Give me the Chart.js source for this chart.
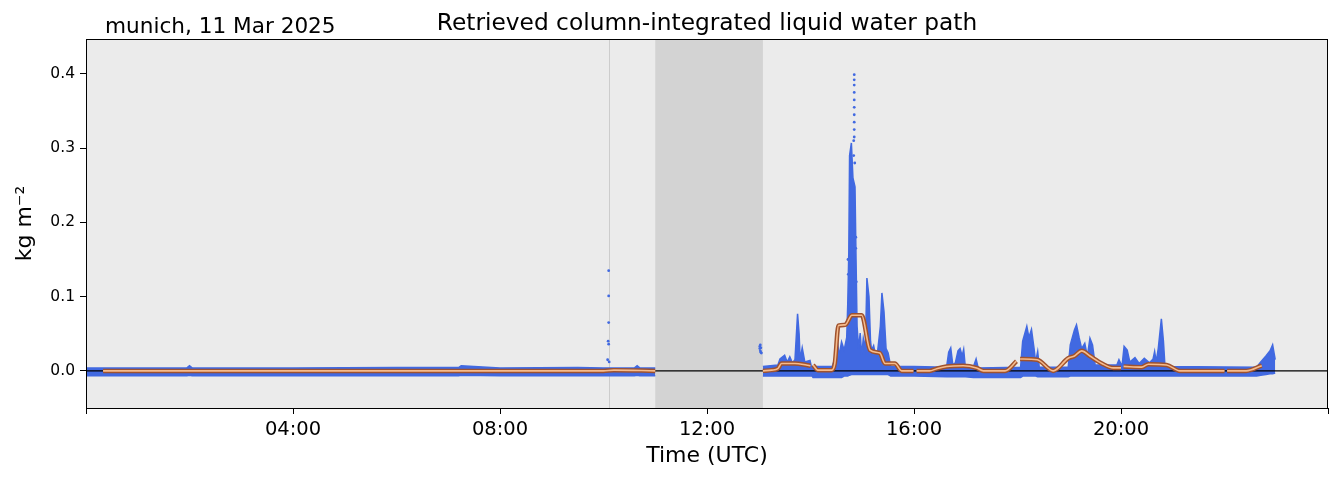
<!DOCTYPE html>
<html>
<head>
<meta charset="utf-8">
<script src="https://cdn.jsdelivr.net/npm/chart.js@4.4.1/dist/chart.umd.min.js"></script>
<style>
html, body { margin: 0; padding: 0; background: #fff; }
#wrap { width: 1339px; height: 478px; }
</style>
</head>
<body>
<div id="wrap"><canvas id="lwpChart" width="1339" height="478"></canvas></div>
<script>
// axis ticks (hours UTC, kg m-2)
const xTicks = [0, 4, 8, 12, 16, 20, 24];
const yTicks = [0.0, 0.1, 0.2, 0.3, 0.4];

// no-data period and the thin marker line
const gapStart = 11.0;
const gapEnd = 13.08;
const markTime = 10.1;

// retrieved LWP envelope, 00-11 UTC
const bandATime = [0.0, 1.95, 2.0, 2.05, 4.0, 6.0, 7.2, 7.25, 8.0, 9.5, 10.0, 10.6, 10.65, 10.7, 11.0];
const bandALow  = [-0.0065, -0.0065, -0.006, -0.0065, -0.0065, -0.0065, -0.0065, -0.006, -0.0065, -0.0065, -0.0065, -0.0065, -0.006, -0.0065, -0.0065];
const bandAHigh = [0.004, 0.004, 0.007, 0.004, 0.004, 0.0045, 0.0045, 0.007, 0.004, 0.0045, 0.004, 0.004, 0.007, 0.004, 0.004];

// retrieved LWP envelope, 13-23 UTC
const bandBTime = [13.08, 13.37, 13.41, 13.50, 13.55, 13.60, 13.65, 13.70, 13.72, 13.75, 13.78, 13.80, 13.84, 13.89, 13.99, 14.02, 14.05,
  14.42, 14.48, 14.52, 14.55, 14.60, 14.65, 14.70, 14.72, 14.74, 14.755, 14.79, 14.82, 14.86, 14.88, 14.90, 14.93, 14.96, 14.99,
  15.02, 15.06, 15.09, 15.13, 15.16, 15.18, 15.22, 15.26, 15.30, 15.35, 15.38, 15.42, 15.46, 15.50, 15.55, 16.00,
  16.63, 16.67, 16.71, 16.75, 16.80, 16.85, 16.89, 16.93, 16.96, 16.99, 17.15, 17.20, 17.24,
  18.06, 18.10, 18.18, 18.22, 18.27, 18.32, 18.35, 18.39, 18.42, 18.98, 19.02, 19.10, 19.14, 19.19, 19.24,
  19.30, 19.35, 19.40, 19.45, 19.50, 19.92, 19.96, 20.02, 20.06, 20.12, 20.17, 20.27, 20.35, 20.45, 20.55, 20.62, 20.65, 20.68,
  20.72, 20.78, 20.82, 20.85, 22.62, 22.70, 22.80, 22.88, 22.93, 22.98];
const bandBLow = [-0.007, -0.007, -0.007, -0.007, -0.007, -0.007, -0.007, -0.007, -0.007, -0.007, -0.007, -0.007, -0.007, -0.007, -0.007, -0.006, -0.009,
  -0.009, -0.009, -0.009, -0.009, -0.009, -0.007, -0.007, -0.007, -0.006, -0.006, -0.005, -0.005, -0.005, -0.005, -0.005, -0.005, -0.005, -0.005,
  -0.005, -0.005, -0.005, -0.005, -0.005, -0.005, -0.005, -0.005, -0.005, -0.005, -0.005, -0.005, -0.005, -0.005, -0.007, -0.007,
  -0.008, -0.008, -0.008, -0.008, -0.008, -0.008, -0.008, -0.008, -0.008, -0.008, -0.009, -0.009, -0.009,
  -0.009, -0.007, -0.007, -0.007, -0.007, -0.007, -0.007, -0.008, -0.008, -0.008, -0.007, -0.007, -0.007, -0.007, -0.007,
  -0.007, -0.007, -0.007, -0.007, -0.007, -0.007, -0.007, -0.007, -0.007, -0.007, -0.007, -0.007, -0.007, -0.007, -0.007, -0.007, -0.007, -0.007,
  -0.007, -0.007, -0.007, -0.007, -0.007, -0.006, -0.005, -0.004, -0.004, -0.003];
const bandBHigh = [0.006, 0.008, 0.016, 0.021, 0.012, 0.019, 0.011, 0.015, 0.040, 0.077, 0.050, 0.015, 0.031, 0.012, 0.014, 0.005, 0.006,
  0.006, 0.018, 0.042, 0.020, 0.039, 0.028, 0.045, 0.090, 0.160, 0.290, 0.307, 0.260, 0.248, 0.150, 0.060, 0.030, 0.051, 0.020,
  0.044, 0.030, 0.125, 0.100, 0.040, 0.028, 0.034, 0.020, 0.028, 0.060, 0.105, 0.080, 0.030, 0.024, 0.006, 0.006,
  0.005, 0.025, 0.031, 0.008, 0.011, 0.027, 0.030, 0.020, 0.029, 0.006, 0.006, 0.016, 0.004,
  0.005, 0.040, 0.060, 0.045, 0.056, 0.030, 0.012, 0.026, 0.005, 0.005, 0.035, 0.055, 0.062, 0.045, 0.030,
  0.037, 0.020, 0.044, 0.035, 0.008, 0.008, 0.015, 0.006, 0.033, 0.028, 0.012, 0.018, 0.010, 0.017, 0.011, 0.016, 0.026, 0.012,
  0.030, 0.070, 0.040, 0.006, 0.005, 0.012, 0.020, 0.027, 0.035, 0.015];

// isolated retrievals outside the dense envelope
const sparseTime  = [10.10, 10.10, 10.10, 10.09, 10.10, 10.08, 10.11,
  13.02, 13.02, 13.03, 13.04, 13.05, 13.04, 13.03,
  14.845, 14.845, 14.845, 14.845, 14.845, 14.845, 14.845, 14.845, 14.845, 14.845, 14.835, 14.835, 14.855,
  14.875, 14.875, 14.885, 14.725, 14.73];
const sparseValue = [0.135, 0.101, 0.065, 0.040, 0.036, 0.015, 0.012,
  0.033, 0.030, 0.027, 0.025, 0.024, 0.031, 0.035,
  0.399, 0.392, 0.385, 0.375, 0.365, 0.355, 0.345, 0.335, 0.325, 0.315, 0.310, 0.290, 0.280,
  0.180, 0.165, 0.120, 0.150, 0.130];

// running mean (null = break between files)
const meanTime  = [0.33, 5.0, 10.0, 10.2, 11.0, 12.0,
  13.08, 13.25, 13.37, 13.44, 13.70, 13.92, 14.0, 14.01, 14.05, 14.14, 14.41, 14.47, 14.54, 14.67, 14.80, 14.99,
  15.15, 15.34, 15.44, 15.63, 15.76, 15.99, 16.01, 16.05, 16.30, 16.44, 16.63, 16.95, 17.21, 17.34, 17.76, 17.98,
  18.01, 18.05, 18.38, 18.69, 18.98, 19.10, 19.24, 19.40, 19.63, 19.85, 20.0, 20.01, 20.05, 20.40, 20.53, 20.88,
  21.14, 22.0, 22.01, 22.05, 22.42, 22.72];
const meanValue = [0.000, 0.000, 0.000, 0.001, 0.000, null,
  0.000, 0.001, 0.003, 0.010, 0.010, 0.008, 0.007, null, 0.008, 0.001, 0.001, 0.010, 0.061, 0.062, 0.075, 0.075,
  0.028, 0.024, 0.010, 0.010, 0.000, 0.000, null, 0.000, 0.000, 0.003, 0.006, 0.007, 0.004, 0.000, 0.000, 0.013,
  null, 0.016, 0.015, 0.000, 0.017, 0.020, 0.027, 0.020, 0.010, 0.004, 0.004, null, 0.006, 0.005, 0.009, 0.008,
  0.000, 0.000, null, 0.000, 0.000, 0.007];

const blue = '#4169e1';
const fontFamily = '"DejaVu Sans", sans-serif';

function pts(xs, ys) {
  return xs.map((x, i) => ({ x: x, y: ys[i] }));
}

function hourLabel(v) {
  if (v === xTicks[0] || v === xTicks[xTicks.length - 1]) return '';
  return String(v).padStart(2, '0') + ':00';
}

const plotDecor = {
  id: 'plotDecor',
  beforeDatasetsDraw(chart) {
    const { ctx, chartArea: a, scales: { x } } = chart;
    ctx.save();
    ctx.fillStyle = '#ebebeb';
    ctx.fillRect(a.left, a.top, a.width, a.height);
    const x0 = x.getPixelForValue(gapStart);
    const x1 = x.getPixelForValue(gapEnd);
    ctx.fillStyle = '#d3d3d3';
    ctx.fillRect(x0, a.top, x1 - x0, a.height);
    const xm = Math.round(x.getPixelForValue(markTime)) + 0.5;
    ctx.strokeStyle = '#cccccc';
    ctx.lineWidth = 1;
    ctx.beginPath();
    ctx.moveTo(xm, a.top);
    ctx.lineTo(xm, a.bottom);
    ctx.stroke();
    ctx.restore();
  },
  afterDraw(chart) {
    const { ctx, chartArea: a } = chart;
    ctx.save();
    ctx.strokeStyle = '#000';
    ctx.lineWidth = 1;
    ctx.strokeRect(Math.round(a.left) + 0.5, Math.round(a.top) + 0.5,
      Math.round(a.width) - 1, Math.round(a.height));
    ctx.fillStyle = '#000';
    ctx.textBaseline = 'alphabetic';
    ctx.textAlign = 'center';
    ctx.font = '23.3px ' + fontFamily;
    ctx.fillText('Retrieved column-integrated liquid water path', (a.left + a.right) / 2, 30);
    ctx.textAlign = 'left';
    ctx.font = '21.6px ' + fontFamily;
    ctx.fillText('munich, 11 Mar 2025', 105, 33);
    ctx.restore();
  }
};

const lineSmooth = { cubicInterpolationMode: 'monotone', pointRadius: 0, fill: false, spanGaps: false };

const ctx = document.getElementById('lwpChart').getContext('2d');
const lwpChart = new Chart(ctx, {
  type: 'line',
  data: {
    datasets: [
      { data: pts(bandATime, bandALow), borderColor: blue, borderWidth: 1.5, pointRadius: 0, fill: false, order: 3 },
      { data: pts(bandATime, bandAHigh), borderColor: blue, borderWidth: 1.5, pointRadius: 0, fill: '-1', backgroundColor: blue, order: 3 },
      { data: pts(bandBTime, bandBLow), borderColor: blue, borderWidth: 1.5, pointRadius: 0, fill: false, order: 3 },
      { data: pts(bandBTime, bandBHigh), borderColor: blue, borderWidth: 1.5, pointRadius: 0, fill: '-1', backgroundColor: blue, order: 3 },
      { type: 'scatter', data: pts(sparseTime, sparseValue), pointRadius: 1.4, pointBackgroundColor: blue, pointBorderWidth: 0, order: 3 },
      { data: pts([xTicks[0], xTicks[xTicks.length - 1]], [0, 0]), borderColor: '#000', borderWidth: 1.3, pointRadius: 0, fill: false, order: 1 },
      Object.assign({ data: pts(meanTime, meanValue), borderColor: '#a0522d', borderWidth: 4.5, order: 0 }, lineSmooth),
      Object.assign({ data: pts(meanTime, meanValue), borderColor: '#f6bb8c', borderWidth: 1.6, order: -1 }, lineSmooth)
    ]
  },
  options: {
    responsive: false,
    animation: false,
    devicePixelRatio: 1,
    layout: { padding: { left: 0, right: 11, top: 39, bottom: 0 } },
    plugins: { legend: { display: false }, tooltip: { enabled: false } },
    scales: {
      x: {
        type: 'linear',
        min: 0,
        max: 24,
        afterBuildTicks: (s) => { s.ticks = xTicks.map(v => ({ value: v })); },
        afterFit: (s) => { s.height = 70; },
        grid: { drawOnChartArea: false, drawTicks: true, tickLength: 6, color: '#000' },
        border: { display: true, color: '#000' },
        ticks: { callback: hourLabel, color: '#000', font: { family: fontFamily, size: 19.5 }, padding: 4, maxRotation: 0, autoSkip: false },
        title: { display: true, text: 'Time (UTC)', color: '#000', font: { family: fontFamily, size: 22 }, padding: { top: 0, bottom: 9 } }
      },
      y: {
        type: 'linear',
        min: -0.05,
        max: 0.447,
        afterBuildTicks: (s) => { s.ticks = yTicks.map(v => ({ value: v })); },
        afterFit: (s) => { s.width = 86; },
        grid: { drawOnChartArea: false, drawTicks: true, tickLength: 6, color: '#000' },
        border: { display: true, color: '#000' },
        ticks: { callback: (v) => v.toFixed(1), color: '#000', font: { family: fontFamily, size: 15.5 }, padding: 5 },
        title: { display: true, text: 'kg m\u207B\u00B2', color: '#000', font: { family: fontFamily, size: 22 }, padding: { top: 12, bottom: 0 } }
      }
    }
  },
  plugins: [plotDecor]
});
</script>
</body>
</html>
